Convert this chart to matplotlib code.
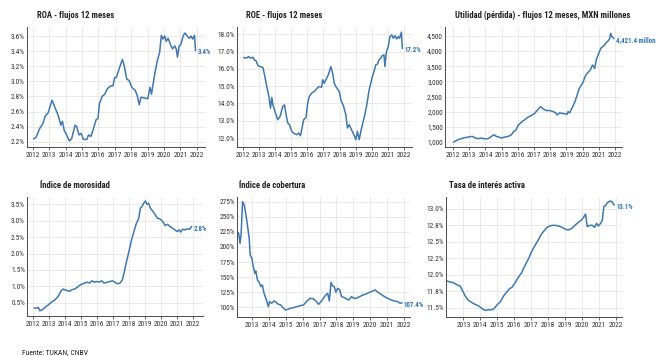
import numpy as np
import matplotlib
matplotlib.use("Agg")
import matplotlib.pyplot as plt
from matplotlib import font_manager as fm
from matplotlib.ticker import FuncFormatter, MultipleLocator

# fuente condensada si hay alguna instalada
_names = {f.name for f in fm.fontManager.ttflist}
_cands = ["Roboto Condensed", "Liberation Sans Narrow", "Open Sans Condensed", "Noto Sans Condensed"]
_pick = [c for c in _cands if c in _names]
if _pick:
    plt.rcParams["font.family"] = [_pick[0], "DejaVu Sans"]
else:
    plt.rcParams["font.family"] = ["DejaVu Sans"]
    plt.rcParams["font.stretch"] = "condensed"

# --- datos ---
roa_t = [2012.06, 2012.21, 2012.41, 2012.62, 2012.76, 2012.93, 2013.18, 2013.34, 2013.55, 2013.71,
         2013.81, 2013.92, 2014.06, 2014.23, 2014.37, 2014.58, 2014.68, 2014.82, 2014.95, 2015.09,
         2015.30, 2015.40, 2015.55, 2015.71, 2015.86, 2015.98, 2016.06, 2016.23, 2016.39, 2016.54,
         2016.74, 2016.89, 2016.99, 2017.09, 2017.26, 2017.46, 2017.57, 2017.73, 2017.88, 2018.04,
         2018.25, 2018.37, 2018.49, 2018.60, 2018.80, 2019.01, 2019.15, 2019.24, 2019.42, 2019.59,
         2019.73, 2019.84, 2019.94, 2020.04, 2020.14, 2020.25, 2020.39, 2020.52, 2020.66, 2020.76,
         2020.82, 2020.93, 2021.03, 2021.18, 2021.28, 2021.42, 2021.55, 2021.65, 2021.75, 2021.86,
         2021.92]
roa_v = [2.24, 2.26, 2.37, 2.44, 2.54, 2.58, 2.75, 2.66, 2.55, 2.42,
         2.47, 2.35, 2.29, 2.21, 2.24, 2.42, 2.40, 2.29, 2.31, 2.23,
         2.23, 2.29, 2.27, 2.38, 2.49, 2.51, 2.70, 2.80, 2.83, 2.90,
         2.94, 2.94, 3.05, 3.05, 3.16, 3.29, 3.21, 3.03, 3.01, 2.92,
         2.88, 2.81, 2.69, 2.79, 2.78, 2.77, 2.92, 2.83, 3.08, 3.27,
         3.38, 3.61, 3.56, 3.60, 3.53, 3.57, 3.49, 3.43, 3.47, 3.42,
         3.32, 3.47, 3.49, 3.61, 3.64, 3.60, 3.57, 3.60, 3.56, 3.61,
         3.41]

roe_t = [2012.06, 2012.21, 2012.35, 2012.47, 2012.62, 2012.72, 2012.82, 2012.93, 2013.07, 2013.24,
         2013.34, 2013.48, 2013.61, 2013.71, 2013.79, 2013.86, 2014.00, 2014.16, 2014.31, 2014.47,
         2014.58, 2014.68, 2014.78, 2014.89, 2015.03, 2015.20, 2015.34, 2015.46, 2015.57, 2015.67,
         2015.77, 2015.92, 2016.02, 2016.12, 2016.27, 2016.43, 2016.60, 2016.74, 2016.89, 2016.95,
         2017.05, 2017.15, 2017.30, 2017.46, 2017.57, 2017.67, 2017.77, 2017.98, 2018.08, 2018.25,
         2018.39, 2018.49, 2018.60, 2018.74, 2018.91, 2019.01, 2019.11, 2019.22, 2019.32, 2019.42,
         2019.57, 2019.69, 2019.84, 2019.94, 2020.04, 2020.14, 2020.25, 2020.35, 2020.45, 2020.56,
         2020.66, 2020.76, 2020.82, 2020.91, 2021.01, 2021.13, 2021.24, 2021.34, 2021.44, 2021.55,
         2021.65, 2021.73, 2021.84, 2021.90]
roe_v = [16.65, 16.62, 16.71, 16.62, 16.67, 16.50, 16.46, 16.19, 16.13, 16.08,
         15.65, 14.98, 14.40, 13.73, 14.35, 13.92, 13.50, 13.06, 13.25, 13.83,
         13.92, 13.35, 12.87, 12.77, 12.38, 12.25, 12.19, 12.29, 12.13, 12.58,
         13.06, 13.19, 14.02, 14.40, 14.60, 14.69, 14.88, 14.98, 14.94, 15.37,
         15.17, 15.37, 15.65, 16.13, 15.75, 15.17, 14.98, 14.69, 14.21, 13.83,
         13.35, 12.58, 12.77, 12.48, 12.15, 11.90, 12.38, 11.90, 12.38, 12.77,
         13.35, 13.92, 14.79, 15.17, 15.56, 15.85, 16.23, 16.27, 16.52, 16.62,
         16.77, 16.81, 16.13, 17.00, 17.23, 17.87, 17.96, 17.77, 17.92, 17.73,
         17.87, 17.77, 18.12, 17.19]

util_t = [2012.04, 2012.31, 2012.62, 2012.93, 2013.19, 2013.34, 2013.54, 2013.75, 2013.89, 2014.16,
          2014.37, 2014.53, 2014.67, 2014.84, 2014.98, 2015.19, 2015.40, 2015.60, 2015.74, 2015.87,
          2016.01, 2016.22, 2016.42, 2016.63, 2016.84, 2017.04, 2017.19, 2017.31, 2017.41, 2017.56,
          2017.76, 2017.97, 2018.17, 2018.34, 2018.42, 2018.58, 2018.79, 2019.04, 2019.10, 2019.20,
          2019.37, 2019.51, 2019.65, 2019.78, 2019.92, 2020.02, 2020.17, 2020.33, 2020.48, 2020.60,
          2020.68, 2020.74, 2020.85, 2020.95, 2021.05, 2021.16, 2021.30, 2021.42, 2021.57, 2021.67,
          2021.73, 2021.81, 2021.92]
util_v = [1000, 1077, 1130, 1163, 1185, 1141, 1108, 1130, 1108, 1108,
          1185, 1240, 1185, 1163, 1130, 1163, 1185, 1240, 1350, 1382,
          1546, 1656, 1733, 1820, 1875, 1951, 2039, 2115, 2170, 2093,
          2039, 2039, 2005, 1962, 1896, 1962, 1940, 1918, 2005, 1962,
          2148, 2312, 2531, 2750, 2881, 2968, 3187, 3297, 3384, 3537,
          3494, 3428, 3734, 3865, 4008, 4117, 4172, 4259, 4336, 4412,
          4588, 4478, 4421.4]

mor_t = [2012.08, 2012.23, 2012.33, 2012.43, 2012.58, 2012.74, 2012.95, 2013.15, 2013.36, 2013.56,
         2013.73, 2013.87, 2013.98, 2014.14, 2014.28, 2014.43, 2014.59, 2014.76, 2014.90, 2015.05,
         2015.21, 2015.37, 2015.52, 2015.68, 2015.83, 2015.99, 2016.14, 2016.28, 2016.44, 2016.65,
         2016.81, 2016.96, 2017.10, 2017.27, 2017.43, 2017.58, 2017.68, 2017.84, 2017.99, 2018.13,
         2018.30, 2018.46, 2018.60, 2018.71, 2018.81, 2018.91, 2019.02, 2019.12, 2019.22, 2019.33,
         2019.49, 2019.63, 2019.78, 2019.94, 2020.11, 2020.25, 2020.40, 2020.56, 2020.72, 2020.87,
         2021.01, 2021.14, 2021.22, 2021.34, 2021.49, 2021.63, 2021.79, 2021.90]
mor_v = [0.34, 0.34, 0.36, 0.26, 0.29, 0.36, 0.44, 0.52, 0.59, 0.69,
         0.85, 0.92, 0.90, 0.87, 0.85, 0.90, 0.92, 0.97, 1.03, 1.07,
         1.10, 1.13, 1.10, 1.17, 1.13, 1.15, 1.13, 1.17, 1.10, 1.13,
         1.15, 1.17, 1.13, 1.08, 1.10, 1.20, 1.40, 1.76, 2.06, 2.37,
         2.67, 2.92, 3.07, 3.38, 3.43, 3.53, 3.60, 3.50, 3.53, 3.38,
         3.28, 3.18, 3.07, 3.05, 2.97, 2.85, 2.89, 2.82, 2.77, 2.72,
         2.67, 2.72, 2.65, 2.74, 2.72, 2.75, 2.74, 2.82]

cob_t = [2012.12, 2012.22, 2012.30, 2012.36, 2012.45, 2012.55, 2012.65, 2012.75, 2012.84, 2012.90,
         2013.00, 2013.08, 2013.18, 2013.23, 2013.33, 2013.43, 2013.53, 2013.62, 2013.72, 2013.86,
         2013.97, 2014.05, 2014.17, 2014.31, 2014.44, 2014.56, 2014.70, 2014.83, 2014.99, 2015.14,
         2015.28, 2015.48, 2015.67, 2015.87, 2016.06, 2016.26, 2016.45, 2016.65, 2016.78, 2016.94,
         2017.09, 2017.23, 2017.37, 2017.48, 2017.58, 2017.68, 2017.76, 2017.87, 2017.97, 2018.07,
         2018.20, 2018.30, 2018.46, 2018.59, 2018.73, 2018.89, 2019.02, 2019.18, 2019.37, 2019.57,
         2019.76, 2019.96, 2020.15, 2020.29, 2020.45, 2020.64, 2020.84, 2021.03, 2021.23, 2021.42,
         2021.62, 2021.77, 2021.87]
cob_v = [225.3, 222.6, 206.0, 219.8, 275.0, 269.5, 253.0, 233.6, 214.3, 186.7,
         181.2, 167.4, 156.3, 160.2, 145.3, 141.4, 134.2, 137.0, 123.2, 112.2,
         101.1, 109.4, 106.6, 110.5, 108.3, 105.0, 103.9, 99.5, 95.6, 96.7,
         98.4, 99.5, 101.1, 102.8, 103.9, 110.5, 114.9, 113.8, 110.5, 105.0,
         109.4, 114.9, 120.4, 123.2, 110.5, 141.4, 135.9, 134.2, 124.9, 131.5,
         128.7, 117.7, 116.0, 113.8, 112.2, 117.7, 114.9, 114.9, 117.7, 120.4,
         122.1, 124.9, 127.1, 128.7, 124.9, 121.5, 117.7, 114.9, 112.2, 110.5,
         109.4, 106.6, 107.4]

tasa_t = [2011.97, 2012.21, 2012.41, 2012.61, 2012.80, 2012.96, 2013.10, 2013.30, 2013.49, 2013.69,
          2013.89, 2014.08, 2014.28, 2014.48, 2014.68, 2014.81, 2014.97, 2015.17, 2015.37, 2015.56,
          2015.72, 2015.86, 2016.00, 2016.16, 2016.31, 2016.45, 2016.55, 2016.71, 2016.85, 2016.98,
          2017.14, 2017.30, 2017.44, 2017.58, 2017.73, 2017.93, 2018.09, 2018.23, 2018.42, 2018.62,
          2018.82, 2019.02, 2019.21, 2019.41, 2019.61, 2019.80, 2019.96, 2020.10, 2020.20, 2020.30,
          2020.44, 2020.59, 2020.73, 2020.85, 2020.95, 2021.09, 2021.19, 2021.28, 2021.38, 2021.48,
          2021.58, 2021.68, 2021.78, 2021.88]
tasa_v = [11.91, 11.89, 11.88, 11.85, 11.83, 11.75, 11.68, 11.61, 11.58, 11.55,
          11.53, 11.49, 11.46, 11.47, 11.47, 11.49, 11.54, 11.59, 11.68, 11.74,
          11.79, 11.81, 11.86, 11.93, 11.99, 12.04, 12.10, 12.18, 12.25, 12.33,
          12.41, 12.48, 12.54, 12.61, 12.66, 12.72, 12.74, 12.75, 12.75, 12.74,
          12.72, 12.69, 12.68, 12.71, 12.76, 12.80, 12.83, 12.88, 12.92, 12.73,
          12.75, 12.75, 12.72, 12.78, 12.74, 12.78, 12.83, 13.04, 13.05, 13.09,
          13.11, 13.12, 13.10, 13.06]

years = list(range(2012, 2023))
LINE = "#3f78b0"
LABEL = "#2c72b8"
W, H = 656, 356


def _box(left, top, right, bottom):
    # pixeles -> fracciones de figura
    return [left / W, 1 - bottom / H, (right - left) / W, (bottom - top) / H]


def _style(ax, xlim, ylim, step, fmt, xticks):
    ax.set_xlim(*xlim)
    ax.set_ylim(*ylim)
    ax.yaxis.set_major_locator(MultipleLocator(step))
    ax.yaxis.set_major_formatter(FuncFormatter(fmt))
    ax.set_xticks(xticks)
    ax.set_xticklabels([str(y) for y in xticks])
    ax.grid(True, color="#e6e6e6", lw=0.6)
    ax.set_axisbelow(True)
    for s in ["top", "right"]:
        ax.spines[s].set_visible(False)
    for s in ["left", "bottom"]:
        ax.spines[s].set_color("#4a4a4a")
        ax.spines[s].set_linewidth(0.7)
    ax.tick_params(axis="both", labelsize=5.3, colors="#333333", length=2, width=0.5, pad=1.5)
    ax.tick_params(axis="y", length=0)


def _panel(fig, box, t, v, label, **kw):
    ax = fig.add_axes(_box(*box))
    ax.plot(t, v, color=LINE, lw=1.1)
    _style(ax, **kw)
    ax.annotate(label, xy=(t[-1], v[-1]), xytext=(1.5, -1.5), textcoords="offset points",
                ha="left", va="center", fontsize=4.9, color=LABEL, fontweight="bold",
                annotation_clip=False)
    return ax


fig = plt.figure(figsize=(W / 100, H / 100), dpi=100)

pct1 = lambda x, _: f"{x:.1f}%"
pct0 = lambda x, _: f"{x:.0f}%"
miles = lambda x, _: f"{x:,.0f}"

_panel(fig, (27, 27, 205, 147), roa_t, roa_v, "3.4%",
       xlim=(2011.65, 2022.5), ylim=(2.13, 3.72), step=0.2, fmt=pct1, xticks=years)
_panel(fig, (237, 27, 412, 147), roe_t, roe_v, "17.2%",
       xlim=(2011.63, 2022.5), ylim=(11.48, 18.42), step=1.0, fmt=pct1, xticks=years)
_panel(fig, (445, 27, 622, 147), util_t, util_v, "4,421.4 millones",
       xlim=(2011.5, 2022.43), ylim=(835, 4797), step=500, fmt=miles, xticks=years)
_panel(fig, (27, 197, 203, 316), mor_t, mor_v, "2.8%",
       xlim=(2011.62, 2022.62), ylim=(0.10, 3.72), step=0.5, fmt=pct1, xticks=years)
_panel(fig, (237, 197, 410, 317), cob_t, cob_v, "107.4%",
       xlim=(2012.12, 2022.35), ylim=(83.9, 282.8), step=25, fmt=pct0, xticks=years[1:])
_panel(fig, (446, 197, 622, 317), tasa_t, tasa_v, "13.1%",
       xlim=(2011.97, 2022.35), ylim=(11.36, 13.18), step=0.25, fmt=pct1, xticks=years[1:])

# titulos
titles = [("ROA - flujos 12 meses", 37, 15),
          ("ROE - flujos 12 meses", 246, 15),
          ("Utilidad (pérdida) - flujos 12 meses, MXN millones", 455, 15),
          ("Índice de morosidad", 40, 185),
          ("Índice de cobertura", 239, 185),
          ("Tasa de interés activa", 449, 185)]
for txt, x, y in titles:
    fig.text(x / W, 1 - y / H, txt, ha="left", va="center", fontsize=6.2,
             fontweight="bold", color="#222222")

fig.text(22 / W, 1 - 352 / H, "Fuente: TUKAN, CNBV", ha="left", va="center",
         fontsize=5.5, color="#222222")

fig.savefig("out.png", dpi=100)
